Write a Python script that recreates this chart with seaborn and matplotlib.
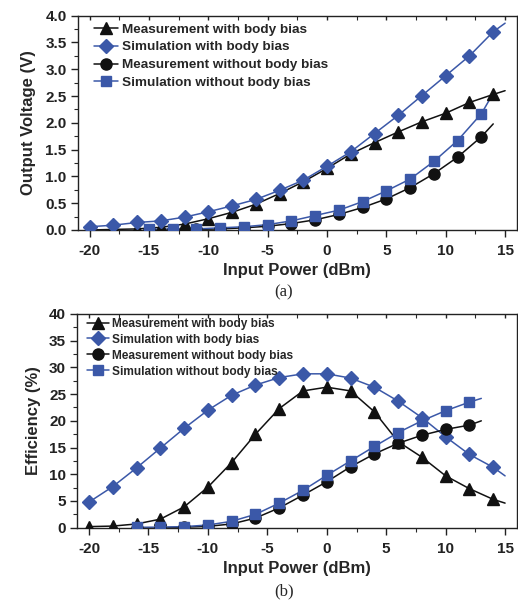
import matplotlib
matplotlib.use('Agg')
import matplotlib.pyplot as plt
from matplotlib.lines import Line2D
from matplotlib.ticker import MultipleLocator, FormatStrFormatter
import seaborn as sns
import pandas as pd

# --- Data: (a) output voltage ---
x_even = [-20, -18, -16, -14, -12, -10, -8, -6, -4, -2, 0, 2, 4, 6, 8, 10, 12, 14]
x_odd = [-15, -13, -11, -9, -7, -5, -3, -1, 1, 3, 5, 7, 9, 11, 13]

v_meas_bb = [0.0, 0.01, 0.02, 0.05, 0.11, 0.21, 0.33, 0.48, 0.68, 0.9, 1.15, 1.42, 1.63, 1.83, 2.02, 2.18, 2.38, 2.53]
v_sim_bb = [0.06, 0.09, 0.14, 0.17, 0.24, 0.34, 0.45, 0.57, 0.74, 0.93, 1.19, 1.46, 1.8, 2.14, 2.51, 2.88, 3.25, 3.70]
v_meas_nobb = [0.0, 0.0, 0.01, 0.02, 0.04, 0.07, 0.12, 0.19, 0.29, 0.42, 0.58, 0.79, 1.05, 1.36, 1.74]
v_sim_nobb = [0.01, 0.02, 0.02, 0.04, 0.06, 0.1, 0.17, 0.27, 0.37, 0.53, 0.73, 0.95, 1.28, 1.67, 2.17]
# where the fitted lines end past the last marker
v_end = {'meas_bb': (15, 2.6), 'sim_bb': (15, 3.86), 'meas_nobb': (14, 1.98), 'sim_nobb': (14, 2.55)}

# --- Data: (b) efficiency ---
x_eff = [-20, -18, -16, -14, -12, -10, -8, -6, -4, -2, 0, 2, 4, 6, 8, 10, 12, 14]
x_eff_nobb = [-16, -14, -12, -10, -8, -6, -4, -2, 0, 2, 4, 6, 8, 10, 12]

e_meas_bb = [0.2, 0.3, 0.7, 1.6, 3.9, 7.6, 12.2, 17.5, 22.3, 25.6, 26.3, 25.6, 21.7, 16.1, 13.2, 9.7, 7.3, 5.3]
e_sim_bb = [4.8, 7.7, 11.2, 14.9, 18.6, 22.0, 24.8, 26.7, 28.1, 28.8, 28.8, 28.0, 26.3, 23.7, 20.6, 17.0, 13.7, 11.3]
e_meas_nobb = [0.0, 0.0, 0.1, 0.25, 0.7, 1.8, 3.7, 6.1, 8.6, 11.4, 13.8, 15.8, 17.3, 18.4, 19.2]
e_sim_nobb = [0.05, 0.1, 0.2, 0.5, 1.2, 2.5, 4.6, 7.0, 9.8, 12.5, 15.2, 17.8, 20.0, 21.9, 23.5]
e_end = {'meas_bb': (15, 4.6), 'sim_bb': (15, 9.7), 'meas_nobb': (13, 20.0), 'sim_nobb': (13, 24.2)}

labels = ['Measurement with body bias', 'Simulation with body bias',
          'Measurement without body bias', 'Simulation without body bias']

BLUE = '#3b58a8'
BLACK = '#111111'
styles = {
    'meas_bb': ('^', BLACK),
    'sim_bb': ('D', BLUE),
    'meas_nobb': ('o', BLACK),
    'sim_nobb': ('s', BLUE),
}
msizes = {'^': 8.5, 'D': 7, 'o': 8, 's': 7}

sns.set_theme(style='ticks')
plt.rcParams['font.family'] = ['Liberation Sans', 'DejaVu Sans']
plt.rcParams['font.weight'] = 'bold'
plt.rcParams['axes.labelweight'] = 'bold'
plt.rcParams['axes.unicode_minus'] = False

fig = plt.figure(figsize=(5.18, 6.03), dpi=100)
ax1 = fig.add_axes([0.150, 0.6186, 0.848, 0.3554])
ax2 = fig.add_axes([0.149, 0.1249, 0.849, 0.3544])


def draw(ax, series, ends):
    for key, (xs, ys) in series.items():
        mk, col = styles[key]
        ex, ey = ends[key]
        line_df = pd.DataFrame({'x': xs + [ex], 'y': ys + [ey]})
        sns.lineplot(data=line_df, x='x', y='y', ax=ax, color=col, lw=1.1,
                     estimator=None, sort=False, legend=False)
        ax.plot(xs, ys, ls='none', marker=mk, color=col,
                markersize=msizes[mk], zorder=3)


def style_axis(ax, ymax, ymaj, ymin):
    ax.set_xlim(-21, 16)
    ax.set_ylim(0, ymax)
    ax.xaxis.set_major_locator(MultipleLocator(5))
    ax.xaxis.set_minor_locator(MultipleLocator(2.5))
    ax.yaxis.set_major_locator(MultipleLocator(ymaj))
    ax.yaxis.set_minor_locator(MultipleLocator(ymin))
    ax.tick_params(which='major', direction='out', length=5, width=1, labelsize=11,
                   colors='#222222', bottom=True, left=True, pad=3)
    ax.tick_params(axis='x', which='major', pad=5)
    ax.tick_params(which='minor', direction='out', length=3, width=0.8, bottom=True, left=True)
    ax.tick_params(axis='x', which='both', top=True, labeltop=False)
    for s in ax.spines.values():
        s.set_color('#222222')
        s.set_linewidth(1.0)
    ax.set_xlabel('Input Power (dBm)', fontsize=12, labelpad=4)
    ax.grid(False)
    # top ticks point inward
    for t in ax.xaxis.get_major_ticks() + ax.xaxis.get_minor_ticks():
        t.tick2line.set_marker(matplotlib.lines.TICKDOWN)
        t.tick2line.set_markersize(3)


def legend(ax, fs, anchor, spacing):
    handles = []
    for key in ['meas_bb', 'sim_bb', 'meas_nobb', 'sim_nobb']:
        mk, col = styles[key]
        handles.append(Line2D([], [], color=col, marker=mk, lw=1.1, markersize=msizes[mk]))
    ax.legend(handles, labels, loc='upper left', bbox_to_anchor=anchor, frameon=False,
              handlelength=1.8, handletextpad=0.3, labelspacing=spacing,
              borderaxespad=0, prop={'weight': 'bold', 'size': fs})


draw(ax1, {'meas_bb': (x_even, v_meas_bb), 'sim_bb': (x_even, v_sim_bb),
           'meas_nobb': (x_odd, v_meas_nobb), 'sim_nobb': (x_odd, v_sim_nobb)}, v_end)
style_axis(ax1, 4.0, 0.5, 0.25)
ax1.yaxis.set_major_formatter(FormatStrFormatter('%.1f'))
ax1.set_ylabel('Output Voltage (V)', fontsize=12, labelpad=7)
legend(ax1, 9.7, (0.024, 0.99), 0.4)

draw(ax2, {'meas_bb': (x_eff, e_meas_bb), 'sim_bb': (x_eff, e_sim_bb),
           'meas_nobb': (x_eff_nobb, e_meas_nobb), 'sim_nobb': (x_eff_nobb, e_sim_nobb)}, e_end)
style_axis(ax2, 40, 5, 2.5)
ax2.set_ylabel('Efficiency (%)', fontsize=12, labelpad=6)
legend(ax2, 8.6, (0.012, 1.005), 0.33)

fig.text(0.547, 1 - 292 / 603, '(a)', ha='center', va='center', fontsize=12,
         family=['Liberation Serif'], weight='normal')
fig.text(0.549, 1 - 591 / 603, '(b)', ha='center', va='center', fontsize=12,
         family=['Liberation Serif'], weight='normal')

fig.savefig('out.png', dpi=100)
